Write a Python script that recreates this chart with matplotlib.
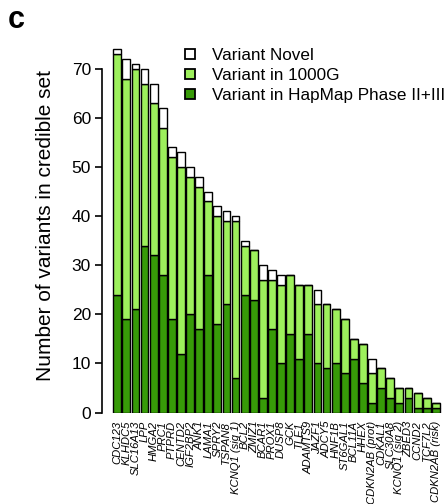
import numpy as np
import matplotlib
matplotlib.use('Agg')
import matplotlib.pyplot as plt
from matplotlib.lines import Line2D

plt.rcParams['font.family'] = ['Liberation Sans', 'DejaVu Sans']

genes = ['CDC123', 'KLHDC5', 'SLC16A13', 'LPP', 'HMGA2', 'PRC1', 'PTPRD', 'CENTD2',
         'IGF2BP2', 'ANK1', 'LAMA1', 'SPRY2', 'TSPAN8', 'KCNQ1 (sig 1)', 'BCL2', 'ZMIZ1',
         'BCAR1', 'PROX1', 'DUSP8', 'GCK', 'TLE1', 'ADAMTS9', 'JAZF1', 'ADCY5', 'HNF1B',
         'ST6GAL1', 'BCL11A', 'HHEX', 'CDKN2AB (prot)', 'CDKAL1', 'SLC30A8', 'KCNQ1 (sig 2)',
         'ZBED3', 'CCND2', 'TCF7L2', 'CDKN2AB (risk)']

# variants in HapMap phase II+III
hapmap = [24, 19, 21, 34, 32, 28, 19, 12, 20, 17, 28, 18, 22, 7, 24, 23,
          3, 17, 10, 16, 11, 16, 10, 9, 10, 8, 11, 6, 2, 5, 3, 2, 3, 1, 1, 1]
# additional variants only in 1000G
kg1000 = [49, 49, 49, 33, 31, 30, 33, 38, 28, 29, 15, 22, 17, 32, 10, 10,
          24, 10, 16, 12, 15, 10, 12, 13, 11, 11, 4, 8, 6, 4, 4, 3, 2, 3, 2, 1]
# novel variants
novel = [1, 4, 1, 3, 4, 4, 2, 3, 2, 2, 2, 2, 2, 1, 1, 0,
         3, 2, 2, 0, 0, 0, 3, 0, 0, 0, 0, 0, 3, 0, 0, 0, 0, 0, 0, 0]

c_dark = '#379b08'
c_light = '#9df05c'

fig = plt.figure(figsize=(4.44, 5.04), dpi=100)
ax = fig.add_axes([0.2297, 0.1815, 0.7703, 0.7405])

x = np.arange(len(genes))
hapmap = np.array(hapmap)
kg1000 = np.array(kg1000)
novel = np.array(novel)
w = 0.86
kw = dict(width=w, edgecolor='black', linewidth=1.0)
ax.bar(x, hapmap, color=c_dark, **kw)
ax.bar(x, kg1000, bottom=hapmap, color=c_light, **kw)
ax.bar(x, novel, bottom=hapmap + kg1000, color='white', **kw)

ax.set_xlim(-1.676, 35.9)
ax.set_ylim(0, 76)
ax.spines['top'].set_visible(False)
ax.spines['right'].set_visible(False)
ax.spines['bottom'].set_visible(False)
ax.spines['left'].set_bounds(0, 70)
ax.spines['left'].set_linewidth(1.2)
ax.set_yticks(range(0, 71, 10))
ax.tick_params(axis='y', labelsize=12.5, length=5, width=1.2, pad=3)
ax.set_xticks(x)
ax.set_xticklabels(genes, rotation=90, fontsize=8.1, style='italic', ha='center', va='top')
ax.tick_params(axis='x', length=0, pad=6)
ax.set_ylabel('Number of variants in credible set', fontsize=15, labelpad=12)

handles = [Line2D([], [], ls='none', marker='s', ms=6.5, mfc=c, mec='black', mew=1.3)
           for c in ['white', c_light, c_dark]]
fig.legend(handles, ['Variant Novel', 'Variant in 1000G', 'Variant in HapMap Phase II+III'],
           loc='upper left', bbox_to_anchor=(0.4126, 0.904), frameon=False, fontsize=12.3,
           handlelength=0.8, handletextpad=0.9, labelspacing=0.28, borderpad=0, borderaxespad=0)

fig.text(0.018, 0.99, 'c', fontsize=22, fontweight='bold', va='top', ha='left')

fig.savefig('out.png', dpi=100)
